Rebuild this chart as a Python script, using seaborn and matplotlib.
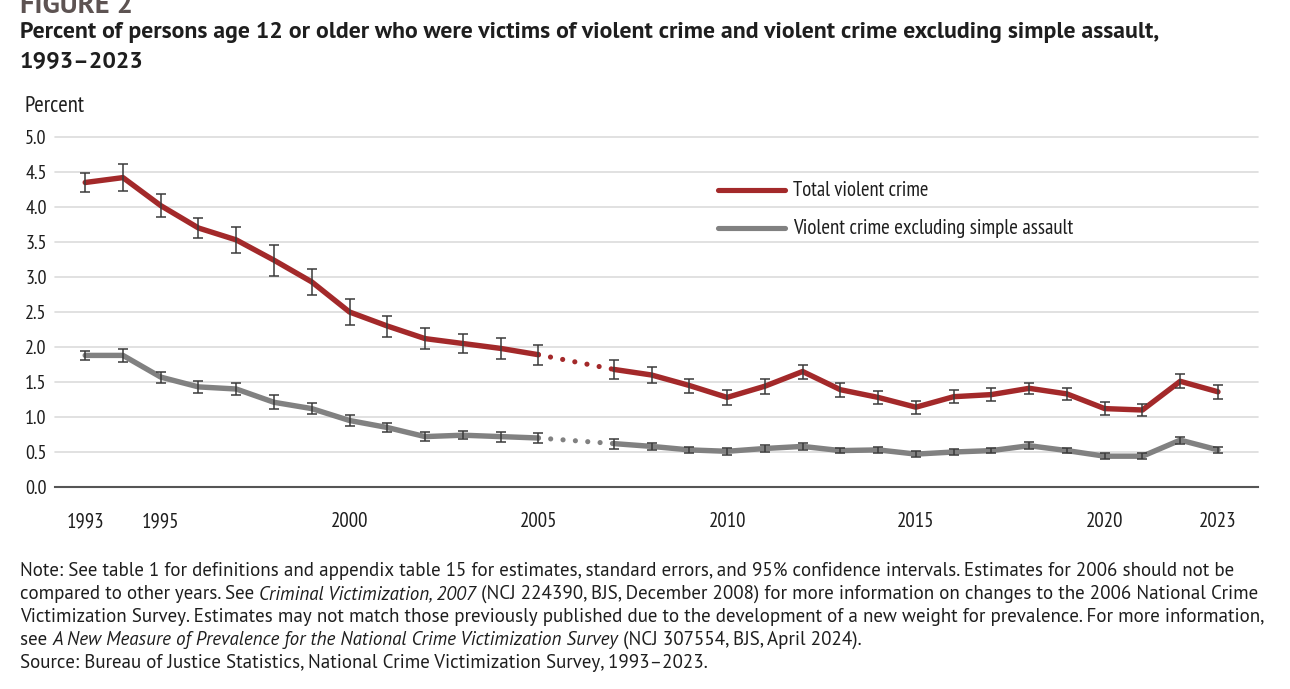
import pandas as pd
import matplotlib.pyplot as plt
import seaborn as sns
from matplotlib.lines import Line2D
from matplotlib.ticker import FixedLocator, FixedFormatter

##################### Data #################################
years = [1993, 1994, 1995, 1996, 1997, 1998, 1999, 2000, 2001, 2002, 2003, 2004, 2005,
         2007, 2008, 2009, 2010, 2011, 2012, 2013, 2014, 2015, 2016, 2017, 2018, 2019,
         2020, 2021, 2022, 2023]
total = [4.35, 4.42, 4.02, 3.70, 3.53, 3.24, 2.93, 2.50, 2.30, 2.12, 2.05, 1.98, 1.89,
         1.68, 1.60, 1.45, 1.28, 1.44, 1.65, 1.39, 1.28, 1.14, 1.29, 1.32, 1.41, 1.33,
         1.12, 1.10, 1.51, 1.36]
total_err = [0.13, 0.19, 0.16, 0.15, 0.19, 0.22, 0.19, 0.18, 0.15, 0.15, 0.13, 0.15, 0.14,
             0.13, 0.11, 0.10, 0.11, 0.11, 0.10, 0.10, 0.09, 0.09, 0.09, 0.09, 0.08, 0.08,
             0.09, 0.08, 0.10, 0.10]
excl = [1.88, 1.88, 1.57, 1.43, 1.40, 1.21, 1.12, 0.95, 0.85, 0.72, 0.74, 0.72, 0.70,
        0.62, 0.58, 0.53, 0.51, 0.55, 0.58, 0.52, 0.53, 0.47, 0.50, 0.52, 0.59, 0.52,
        0.44, 0.44, 0.67, 0.53]
excl_err = [0.07, 0.09, 0.08, 0.08, 0.09, 0.10, 0.08, 0.08, 0.07, 0.06, 0.06, 0.07, 0.07,
            0.07, 0.05, 0.04, 0.05, 0.05, 0.05, 0.04, 0.04, 0.04, 0.04, 0.04, 0.05, 0.04,
            0.04, 0.04, 0.05, 0.04]
series_names = ["Total violent crime", "Violent crime excluding simple assault"]
tick_years = [1993, 1994, 1995, 1996, 1997, 1998, 1999, 2000, 2001, 2002, 2003, 2004, 2005,
              2006, 2007, 2008, 2009, 2010, 2011, 2012, 2013, 2014, 2015, 2016, 2017, 2018,
              2019, 2020, 2021, 2022, 2023, 2024]
labeled_years = [1993, 1995, 2000, 2005, 2010, 2015, 2020, 2023]

RED = "#a3292a"
GRAY = "#818181"
TXT = "#1e1e1e"
cond = ["PT Sans Narrow", "Roboto Condensed", "Liberation Sans Narrow", "DejaVu Sans"]
myriad = ["PT Sans", "Open Sans", "DejaVu Sans"]

W, H = 1290, 689


def fx(px):
    return px / W


def fy(py):
    return 1 - py / H


##################### Frame #################################
rows = []
for name, vals, errs in [(series_names[0], total, total_err), (series_names[1], excl, excl_err)]:
    for y, v, e in zip(years, vals, errs):
        rows.append({"year": y, "value": v, "err": e, "series": name,
                     "segment": "pre" if y <= 2005 else "post"})
df = pd.DataFrame(rows)

sns.set_theme(style="white")
plt.rcParams["font.family"] = cond

fig = plt.figure(figsize=(12.9, 6.89), dpi=100)
ax = fig.add_axes([fx(55), fy(487), fx(1258) - fx(55), fy(137) - fy(487)])

sns.lineplot(data=df, x="year", y="value", hue="series", units="segment", estimator=None,
             palette={series_names[0]: RED, series_names[1]: GRAY}, linewidth=3.9,
             legend=False, ax=ax, zorder=3)

# dotted bridge over 2006
for name, color in [(series_names[0], RED), (series_names[1], GRAY)]:
    sub = df[(df.series == name) & (df.year.isin([2005, 2007]))]
    ax.plot(sub.year, sub.value, color=color, lw=3.7, ls=(0, (0.01, 2.4)),
            dash_capstyle="round", zorder=3)
    s = df[df.series == name]
    ax.errorbar(s.year, s.value, yerr=s.err, fmt="none", ecolor="#3a3a3a",
                elinewidth=1.1, capsize=3.5, capthick=1.1, zorder=4)

ax.set_xlim(1992.2, 2024.06)
ax.set_ylim(0, 5.0)
ax.set_yticks([0.0, 0.5, 1.0, 1.5, 2.0, 2.5, 3.0, 3.5, 4.0, 4.5, 5.0])
ax.set_yticklabels(["%.1f" % t for t in ax.get_yticks()], fontsize=14.5, color=TXT)
ax.xaxis.set_major_locator(FixedLocator(tick_years))
ax.xaxis.set_major_formatter(FixedFormatter([str(y) if y in labeled_years else "" for y in tick_years]))
ax.tick_params(axis="x", direction="out", length=8, width=1.2, color="#555555",
               labelsize=15, labelcolor=TXT, pad=10)
ax.tick_params(axis="y", length=0, pad=6)
ax.set_xlabel("")
ax.set_ylabel("")
ax.grid(axis="y", color="#dcdcdc", lw=1.2)
ax.set_axisbelow(True)
for sp in ["top", "right", "left"]:
    ax.spines[sp].set_visible(False)
ax.spines["bottom"].set_color("#555555")
ax.spines["bottom"].set_linewidth(1.5)
for gl in ax.get_ygridlines():
    gl.set_clip_on(False)


def fit(texts, target_px):
    # scale font sizes so a run of texts spans target_px
    fig.canvas.draw()
    r = fig.canvas.get_renderer()
    x0 = min(t.get_window_extent(r).x0 for t in texts)
    x1 = max(t.get_window_extent(r).x1 for t in texts)
    k = target_px / (x1 - x0)
    for t in texts:
        t.set_fontsize(t.get_fontsize() * k)


# legend
for py, color, label, width in [(190, RED, series_names[0], 136), (228, GRAY, series_names[1], 282)]:
    fig.add_artist(Line2D([fx(718), fx(785)], [fy(py), fy(py)], color=color, lw=3.7,
                          solid_capstyle="round", transform=fig.transFigure))
    t = fig.text(fx(793), fy(py), label, fontsize=14, color=TXT, va="center", family=cond)
    fit([t], width)

##################### Texts #################################
t = fig.text(fx(20), fy(13), "FIGURE 2", fontsize=16, fontweight="bold", color="#5d5352",
             va="baseline", family=myriad)
fit([t], 113)
t = fig.text(fx(20), fy(38), "Percent of persons age 12 or older who were victims of violent crime "
             "and violent crime excluding simple assault,", fontsize=15, fontweight="bold",
             color=TXT, va="baseline", family=myriad)
fit([t], 1145)
fig.text(fx(20), fy(68), "1993\u20132023", fontsize=t.get_fontsize(), fontweight="bold",
         color=TXT, va="baseline", family=myriad)
t = fig.text(fx(25), fy(112), "Percent", fontsize=14, color=TXT, va="baseline", family=cond)
fit([t], 60)


def note_line(py, parts, size=12):
    out = []
    last = None
    for txt, italic in parts:
        style = "italic" if italic else "normal"
        if last is None:
            last = fig.text(fx(20), fy(py), txt, fontsize=size, style=style, color=TXT,
                            va="baseline", family=myriad)
        else:
            last = fig.add_artist(plt.Annotation(txt, xy=(1, 0), xycoords=last, va="bottom",
                                                 ha="left", fontsize=size, style=style,
                                                 color=TXT, family=myriad))
        out.append(last)
    return out


first = note_line(576, [("Note: See table 1 for definitions and appendix table 15 for estimates, standard "
                         "errors, and 95% confidence intervals. Estimates for 2006 should not be", False)])
fit(first, 1215)
size = first[0].get_fontsize()
note_line(599, [("compared to other years. See ", False), ("Criminal Victimization, 2007", True),
                (" (NCJ 224390, BJS, December 2008) for more information on changes to the "
                 "2006 National Crime", False)], size)
note_line(622, [("Victimization Survey. Estimates may not match those previously published due "
                 "to the development of a new weight for prevalence. For more information,", False)], size)
note_line(645, [("see ", False),
                ("A New Measure of Prevalence for the National Crime Victimization Survey", True),
                (" (NCJ 307554, BJS, April 2024).", False)], size)
note_line(668, [("Source: Bureau of Justice Statistics, National Crime Victimization Survey, "
                 "1993\u20132023.", False)], size)

fig.savefig("out.png", dpi=100)
